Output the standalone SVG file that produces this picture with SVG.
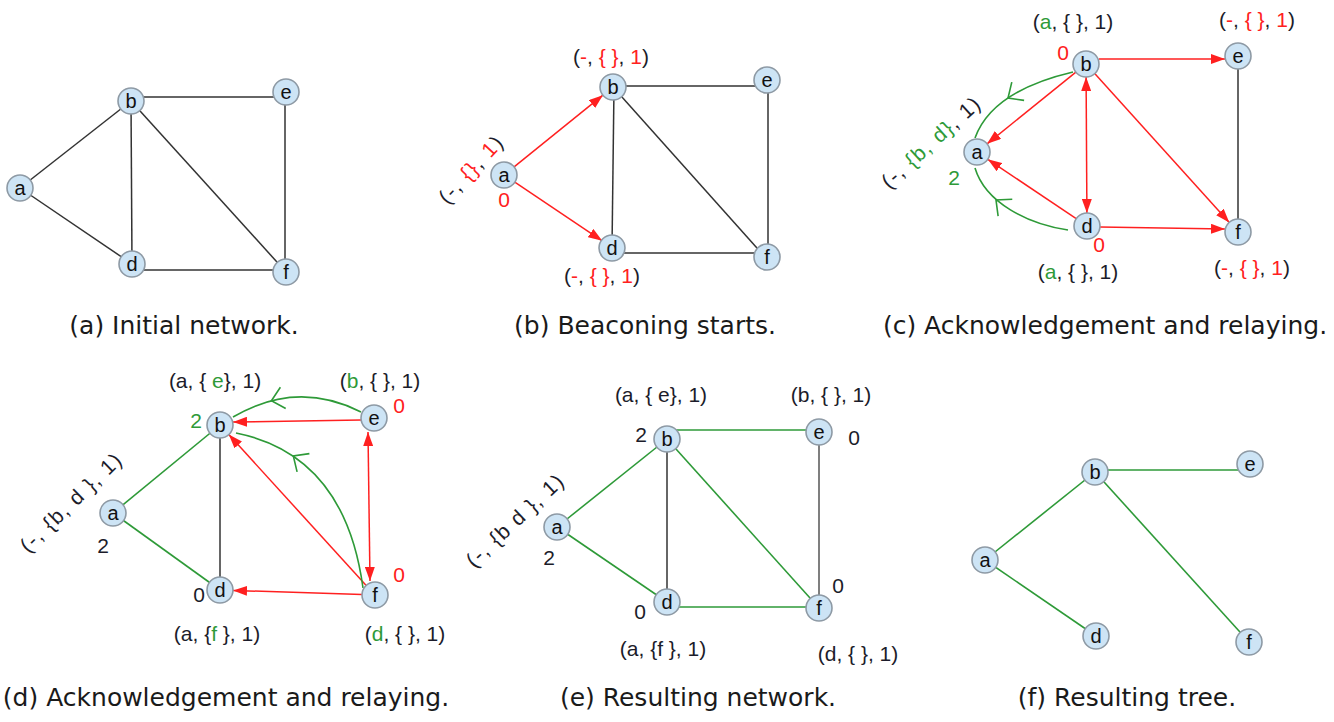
<svg xmlns="http://www.w3.org/2000/svg" xmlns:xlink="http://www.w3.org/1999/xlink" width="1334" height="722" viewBox="0 0 1334 722">
<defs>
<style>
.blk{stroke:#333;stroke-width:1.5;fill:none}
.gry{stroke:#555;stroke-width:1.5;fill:none}
.grn{stroke:#2e9a38;stroke-width:1.6;fill:none}
.red{stroke:#ff2020;stroke-width:1.5;fill:none}
.arr{marker-end:url(#ah)}
.dbl{marker-start:url(#ah);marker-end:url(#ah)}
.node circle{fill:#cde4f5;stroke:#8e9aa5;stroke-width:1.6}
.node text{font-family:"Liberation Sans",Arial,sans-serif;font-size:20px;fill:#111;text-anchor:middle}
.lbl{font-family:"Liberation Sans",Arial,sans-serif;font-size:21px;fill:#1c1c2a;text-anchor:middle}
.rot{letter-spacing:1.5px}
.r{fill:#ff2020}
.g{fill:#2e9a38}
.cap{font-family:"DejaVu Sans",sans-serif;font-size:25px;fill:#1a1a1a;text-anchor:middle}
</style>
<marker id="ah" viewBox="0 0 14 10" refX="14" refY="5" markerWidth="14" markerHeight="10" markerUnits="userSpaceOnUse" orient="auto-start-reverse"><path d="M0,0 L14,5 L0,10 z" fill="#ff2020"/></marker>
<path id="chev" d="M-12,-11 L0,0 L-12,11" fill="none" stroke="#2e9a38" stroke-width="1.6"/>
</defs>
<rect width="1334" height="722" fill="#fff"/>

<g id="connectors">
<g id="conn-a">
<line class="blk" x1="20" y1="188" x2="131" y2="101"/>
<line class="blk" x1="20" y1="188" x2="132" y2="264"/>
<line class="blk" x1="131" y1="97" x2="286" y2="97"/>
<line class="blk" x1="131" y1="101" x2="132" y2="264"/>
<line class="blk" x1="131" y1="101" x2="286" y2="272"/>
<line class="blk" x1="285" y1="92" x2="285" y2="272"/>
<line class="blk" x1="132" y1="270" x2="286" y2="270"/>
</g>
<g id="conn-b">
<line class="blk" x1="613" y1="86" x2="765" y2="86"/>
<line class="blk" x1="614" y1="87" x2="612" y2="248"/>
<line class="blk" x1="613" y1="87" x2="765" y2="257"/>
<line class="blk" x1="768" y1="80" x2="768" y2="257"/>
<line class="blk" x1="613" y1="253" x2="765" y2="253"/>
<line class="red arr" x1="514.1" y1="166.8" x2="602.9" y2="95.2"/>
<line class="red arr" x1="514.8" y1="182.2" x2="602.2" y2="240.8"/>
</g>
<g id="conn-c">
<line class="blk" x1="1238" y1="56" x2="1238" y2="232"/>
<line class="red arr" x1="1099" y1="59" x2="1225" y2="59"/>
<line class="red arr" x1="1075.9" y1="72.2" x2="987.1" y2="143.8"/>
<line class="red dbl" x1="1086.1" y1="77" x2="1086.9" y2="213"/>
<line class="red arr" x1="1094.7" y1="73.6" x2="1229.3" y2="222.4"/>
<line class="red arr" x1="1076.2" y1="218.7" x2="987.8" y2="159.3"/>
<line class="red arr" x1="1100" y1="227" x2="1225" y2="229"/>
<path class="grn" d="M1073,72 Q992,91 975,138"/>
<use xlink:href="#chev" href="#chev" transform="translate(1008,98) rotate(146)"/>
<path class="grn" d="M1068,230 C1028,224 985.5,203 975,168"/>
<use xlink:href="#chev" href="#chev" transform="translate(996,200) rotate(-140)"/>
</g>
<g id="conn-d">
<line class="grn" x1="113" y1="513" x2="220" y2="425"/>
<line class="grn" x1="113" y1="513" x2="220" y2="590"/>
<line class="blk" x1="220" y1="425" x2="220" y2="590"/>
<line class="red arr" x1="361" y1="420" x2="233" y2="422"/>
<line class="red arr" x1="366.2" y1="585.4" x2="228.8" y2="434.6"/>
<line class="red dbl" x1="368" y1="432" x2="370" y2="581"/>
<line class="red arr" x1="362" y1="594.6" x2="233" y2="590.4"/>
<path class="grn" d="M361,412 Q297,379.5 233,417"/>
<use xlink:href="#chev" href="#chev" transform="translate(271.4,400.8) rotate(166)"/>
<path class="grn" d="M363,588 Q345,455 236,433"/>
<use xlink:href="#chev" href="#chev" transform="translate(293.3,456) rotate(-146)"/>
</g>
<g id="conn-e">
<line class="grn" x1="557" y1="527" x2="667" y2="439"/>
<line class="grn" x1="557" y1="527" x2="667" y2="602"/>
<line class="grn" x1="667" y1="430" x2="819" y2="430"/>
<line class="grn" x1="667" y1="439" x2="819" y2="608"/>
<line class="grn" x1="667" y1="607" x2="819" y2="607"/>
<line class="blk" x1="667" y1="439" x2="667" y2="602"/>
<line class="gry" x1="819" y1="432" x2="819" y2="608"/>
</g>
<g id="conn-f">
<line class="grn" x1="985" y1="560" x2="1095" y2="472"/>
<line class="grn" x1="985" y1="560" x2="1096" y2="636"/>
<line class="grn" x1="1095" y1="470" x2="1250" y2="470"/>
<line class="grn" x1="1095" y1="472" x2="1249" y2="642"/>
</g>
</g>

<g id="pa-a" class="node"><circle cx="20" cy="188" r="13"/><text x="20" y="195">a</text></g>
<g id="pa-b" class="node"><circle cx="131" cy="101" r="13"/><text x="131" y="108">b</text></g>
<g id="pa-e" class="node"><circle cx="286" cy="92" r="13"/><text x="286" y="99">e</text></g>
<g id="pa-d" class="node"><circle cx="132" cy="264" r="13"/><text x="132" y="271">d</text></g>
<g id="pa-f" class="node"><circle cx="286" cy="272" r="13"/><text x="286" y="279">f</text></g>

<g id="pb-a" class="node"><circle cx="504" cy="175" r="13"/><text x="504" y="182">a</text></g>
<g id="pb-b" class="node"><circle cx="613" cy="87" r="13"/><text x="613" y="94">b</text></g>
<g id="pb-e" class="node"><circle cx="767" cy="80" r="13"/><text x="767" y="87">e</text></g>
<g id="pb-d" class="node"><circle cx="612" cy="248" r="13"/><text x="612" y="255">d</text></g>
<g id="pb-f" class="node"><circle cx="767" cy="257" r="13"/><text x="767" y="264">f</text></g>

<g id="pc-a" class="node"><circle cx="977" cy="152" r="13"/><text x="977" y="159">a</text></g>
<g id="pc-b" class="node"><circle cx="1086" cy="64" r="13"/><text x="1086" y="71">b</text></g>
<g id="pc-e" class="node"><circle cx="1238" cy="56" r="13"/><text x="1238" y="63">e</text></g>
<g id="pc-d" class="node"><circle cx="1087" cy="226" r="13"/><text x="1087" y="233">d</text></g>
<g id="pc-f" class="node"><circle cx="1238" cy="232" r="13"/><text x="1238" y="239">f</text></g>

<g id="pd-a" class="node"><circle cx="113" cy="513" r="13"/><text x="113" y="520">a</text></g>
<g id="pd-b" class="node"><circle cx="220" cy="425" r="13"/><text x="220" y="432">b</text></g>
<g id="pd-e" class="node"><circle cx="374" cy="418" r="13"/><text x="374" y="425">e</text></g>
<g id="pd-d" class="node"><circle cx="220" cy="590" r="13"/><text x="220" y="597">d</text></g>
<g id="pd-f" class="node"><circle cx="375" cy="595" r="13"/><text x="375" y="602">f</text></g>

<g id="pe-a" class="node"><circle cx="557" cy="527" r="13"/><text x="557" y="534">a</text></g>
<g id="pe-b" class="node"><circle cx="667" cy="439" r="13"/><text x="667" y="446">b</text></g>
<g id="pe-e" class="node"><circle cx="819" cy="432" r="13"/><text x="819" y="439">e</text></g>
<g id="pe-d" class="node"><circle cx="667" cy="602" r="13"/><text x="667" y="609">d</text></g>
<g id="pe-f" class="node"><circle cx="819" cy="608" r="13"/><text x="819" y="615">f</text></g>

<g id="pf-a" class="node"><circle cx="985" cy="560" r="13"/><text x="985" y="567">a</text></g>
<g id="pf-b" class="node"><circle cx="1095" cy="472" r="13"/><text x="1095" y="479">b</text></g>
<g id="pf-e" class="node"><circle cx="1250" cy="464" r="13"/><text x="1250" y="471">e</text></g>
<g id="pf-d" class="node"><circle cx="1096" cy="636" r="13"/><text x="1096" y="643">d</text></g>
<g id="pf-f" class="node"><circle cx="1249" cy="642" r="13"/><text x="1249" y="649">f</text></g>

<g id="labels">
<text class="lbl" x="611" y="64">(<tspan class="r">-</tspan>, <tspan class="r">{ }</tspan>, <tspan class="r">1</tspan>)</text>
<text class="lbl" x="602" y="283">(<tspan class="r">-</tspan>, <tspan class="r">{ }</tspan>, <tspan class="r">1</tspan>)</text>
<text class="lbl rot" transform="translate(472,170) rotate(-47)" x="0" y="6">(-, <tspan class="r">{}</tspan>, <tspan class="r">1</tspan>)</text>
<text class="lbl r" x="504" y="207">0</text>

<text class="lbl" x="1073" y="29">(<tspan class="g">a</tspan>, { }, 1)</text>
<text class="lbl" x="1257" y="27">(<tspan class="r">-</tspan>, <tspan class="r">{ }</tspan>, <tspan class="r">1</tspan>)</text>
<text class="lbl" x="1252" y="275">(<tspan class="r">-</tspan>, <tspan class="r">{ }</tspan>, <tspan class="r">1</tspan>)</text>
<text class="lbl" x="1078" y="279">(<tspan class="g">a</tspan>, { }, 1)</text>
<text class="lbl rot" transform="translate(932,143) rotate(-42)" x="0" y="6">(-, <tspan class="g">{b, d}</tspan>, 1)</text>
<text class="lbl r" x="1063" y="60">0</text>
<text class="lbl g" x="954" y="185">2</text>
<text class="lbl r" x="1099" y="252">0</text>

<text class="lbl" x="215" y="388">(a, { <tspan class="g">e</tspan>}, 1)</text>
<text class="lbl" x="380" y="388">(<tspan class="g">b</tspan>, { }, 1)</text>
<text class="lbl" x="217" y="641">(a, {<tspan class="g">f</tspan> }, 1)</text>
<text class="lbl" x="405" y="641">(<tspan class="g">d</tspan>, { }, 1)</text>
<text class="lbl rot" transform="translate(72,503) rotate(-44)" x="0" y="6">(-, {b, d }, 1)</text>
<text class="lbl g" x="196" y="428">2</text>
<text class="lbl r" x="399" y="413">0</text>
<text class="lbl" x="103" y="553">2</text>
<text class="lbl" x="199" y="602">0</text>
<text class="lbl r" x="399" y="582">0</text>

<text class="lbl" x="661" y="402">(a, { e}, 1)</text>
<text class="lbl" x="831" y="402">(b, { }, 1)</text>
<text class="lbl" x="663" y="656">(a, {f }, 1)</text>
<text class="lbl" x="858" y="661">(d, { }, 1)</text>
<text class="lbl rot" transform="translate(516,521) rotate(-43)" x="0" y="6">(-, {b d }, 1)</text>
<text class="lbl" x="641" y="442">2</text>
<text class="lbl" x="854" y="445">0</text>
<text class="lbl" x="549" y="565">2</text>
<text class="lbl" x="640" y="619">0</text>
<text class="lbl" x="838" y="593">0</text>
</g>

<g id="captions">
<text class="cap" x="184" y="334">(a) Initial network.</text>
<text class="cap" x="645" y="334">(b) Beaconing starts.</text>
<text class="cap" x="1105" y="334">(c) Acknowledgement and relaying.</text>
<text class="cap" x="226" y="706">(d) Acknowledgement and relaying.</text>
<text class="cap" x="698" y="706">(e) Resulting network.</text>
<text class="cap" x="1127" y="706">(f) Resulting tree.</text>
</g>
</svg>
